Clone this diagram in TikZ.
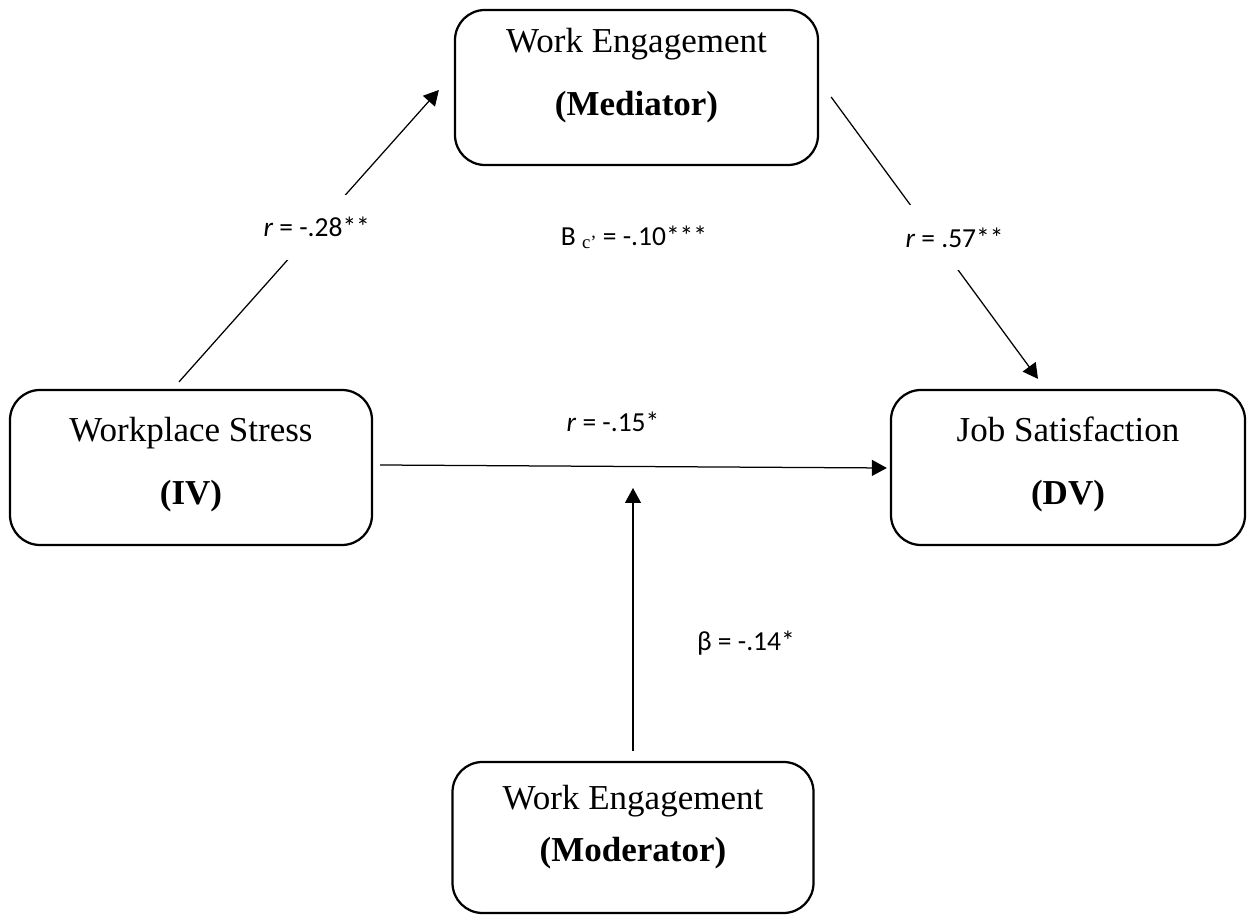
\documentclass[tikz,border=0pt]{standalone}
\usepackage{fontspec}
\setmainfont{Liberation Serif}
\newfontfamily\calibri{Carlito}
\usetikzlibrary{arrows.meta}

\begin{document}
\begin{tikzpicture}[x=0.4pt, y=-0.4pt,
    var/.style={draw, line width=0.9pt, rounded corners=12pt, minimum height=62pt, inner sep=0pt},
    vartext/.style={align=center, font=\fontsize{14}{25.2}\selectfont},
    link/.style={line width=0.5pt, -{Triangle[length=6pt, width=6.4pt]}},
    coef/.style={font=\calibri\fontsize{11}{13}\selectfont},
    gapcoef/.style={coef, fill=white, minimum height=26pt, inner xsep=1pt}]
  \useasboundingbox (0,0) rectangle (1247,917);

  % variables
  \node[var, minimum width=144.8pt, label={[vartext, yshift=1.2pt]center:Workplace Stress\\\textbf{(IV)}}] (iv) at (191,467.5) {};
  \node[var, minimum width=145.2pt, label={[vartext, yshift=4.8pt]center:Work Engagement\\\textbf{(Mediator)}}] (med) at (636.5,87.5) {};
  \node[var, minimum width=141.6pt, label={[vartext, yshift=1.2pt]center:Job Satisfaction\\\textbf{(DV)}}] (dv) at (1068,467.5) {};
  \node[var, minimum width=144.4pt, minimum height=60.4pt, label={[vartext, font=\fontsize{14}{20.8}\selectfont, yshift=4pt]center:Work Engagement\\\textbf{(Moderator)}}] (mod) at (633,837.5) {};

  % free ends of the paths
  \coordinate (ivout)   at ([shift={(-12,-7)}]iv.north);
  \coordinate (medin)   at ([shift={(-15,2.5)}]med.west);
  \coordinate (medout)  at ([shift={(12,9.5)}]med.east);
  \coordinate (dvin)    at ([shift={(-30,-10)}]dv.north);
  \coordinate (ivright) at ([shift={(7,-2.5)}]iv.east);
  \coordinate (dvleft)  at ([shift={(-3,0.5)}]dv.west);
  \coordinate (modtop)  at ([shift={(0,-10)}]mod.north);
  \coordinate (hit)     at (633,488);

  % paths
  \draw[link] (ivout) -- node[gapcoef, pos=0.53] (ra) {\textit{r} = -.28**} (medin);
  \draw[link] (medout) -- node[gapcoef, pos=0.5, xshift=8pt] (rb) {\textit{r} = .57**} (dvin);
  \draw[link] (ivright) -- (dvleft);
  \draw[link] (modtop) -- (hit);

  \node[coef] (rc) at (613,422) {\textit{r} = -.15*};
  \node[coef] (beta) at (746,643) {β = -.14*};
  \node[coef] (bc) at (634,237) {B {\rmfamily\fontsize{7.5}{9}\selectfont\raisebox{-1.2pt}{c’}} = -.10***};
\end{tikzpicture}
\end{document}
